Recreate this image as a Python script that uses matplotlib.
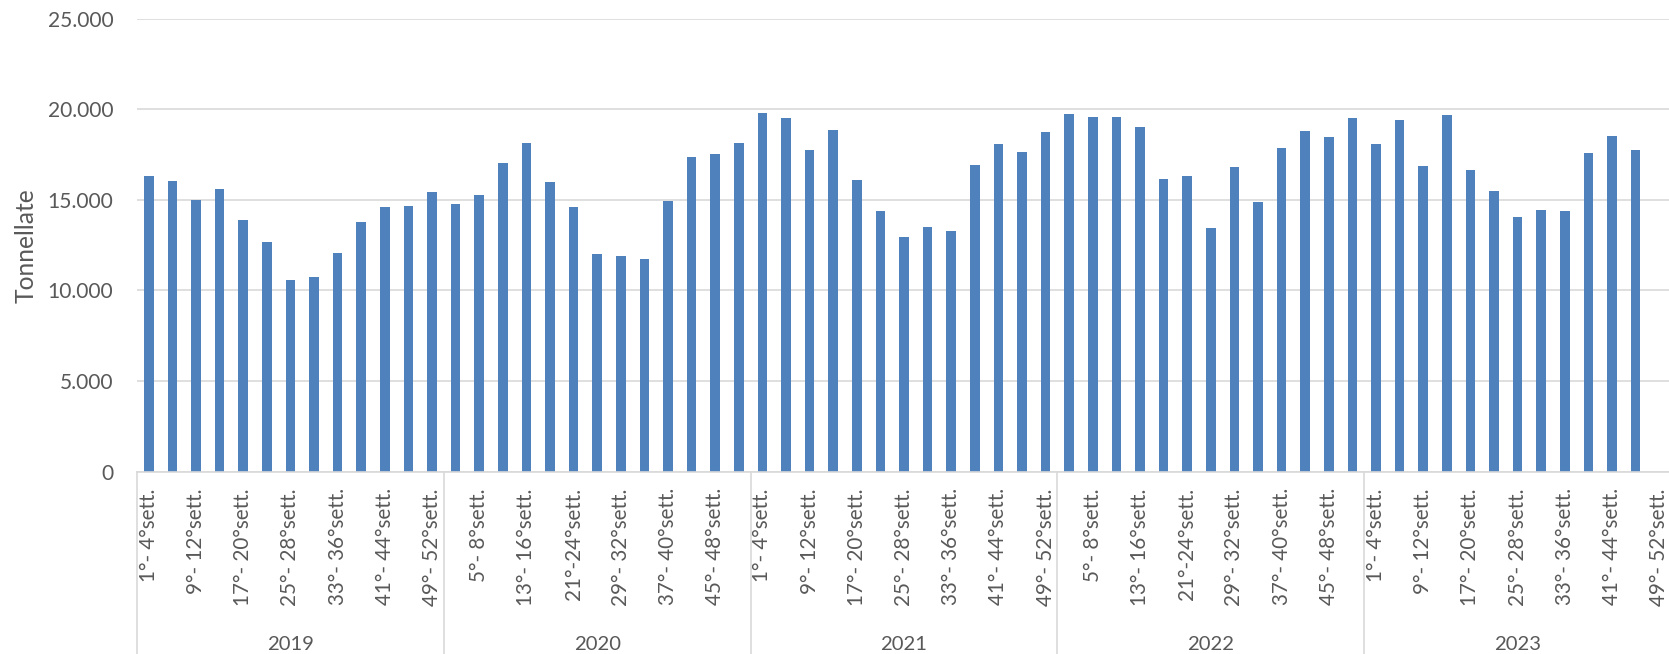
import numpy as np
import matplotlib
matplotlib.use("Agg")
import matplotlib.pyplot as plt
from matplotlib.ticker import FuncFormatter, FixedLocator
from matplotlib.transforms import blended_transform_factory
from matplotlib.lines import Line2D

# ---------------- data ----------------
years = ["2019", "2020", "2021", "2022", "2023"]
periods = ["1°- 4°sett.", "5°- 8°sett.", "9°- 12°sett.", "13°- 16°sett.",
           "17°- 20°sett.", "21°-24°sett.", "25°- 28°sett.", "29°- 32°sett.",
           "33°- 36°sett.", "37°- 40°sett.", "41°- 44°sett.", "45°- 48°sett.",
           "49°- 52°sett."]
v2019 = [16330, 16050, 14970, 15600, 13870, 12650, 10570, 10750, 12080, 13790, 14600, 14640, 15450]
v2020 = [14790, 15250, 17010, 18120, 15980, 14590, 12020, 11910, 11750, 14930, 17350, 17550, 18150]
v2021 = [19780, 19520, 17750, 18850, 16100, 14370, 12950, 13480, 13260, 16940, 18090, 17660, 18750]
v2022 = [19740, 19560, 19590, 19020, 16130, 16330, 13440, 16830, 14880, 17850, 18820, 18470, 19520]
v2023 = [18090, 19430, 16870, 19690, 16670, 15490, 14050, 14440, 14370, 17570, 18540, 17740, np.nan]
series = [v2019, v2020, v2021, v2022, v2023]

values = np.concatenate([np.array(s, dtype=float) for s in series])
n = len(values)
labels = periods * len(years)

# ---------------- style ----------------
BAR = "#4F81BD"
GRID = "#D9D9D9"
TXT = "#595959"
FONT = "Lato"
plt.rcParams["font.family"] = [FONT, "DejaVu Sans"]

W, H = 1669, 654
fig = plt.figure(figsize=(W / 100, H / 100), dpi=100)
renderer = fig.canvas.get_renderer()


def fit_size(s, target_px, base=16.0):
    t = fig.text(0, 0, s, fontsize=base)
    w = t.get_window_extent(renderer).width
    t.remove()
    return base * target_px / w


fs_y = fit_size("25.000", 66)
fs_x = fit_size("17°- 20°sett.", 118)
fs_year = fit_size("2019", 47)
fs_lab = fit_size("Tonnellate", 115)

ax_left, ax_right = 137 / W, 1671 / W
ax_bottom = (H - 471.5) / H
ax_top = (H - 18.7) / H
ax = fig.add_axes([ax_left, ax_bottom, ax_right - ax_left, ax_top - ax_bottom])

x = np.arange(n) + 0.5
ax.bar(x, values, width=0.40, color=BAR, zorder=3)

ax.set_xlim(0, n)
ax.set_ylim(0, 25000)
ax.yaxis.set_major_locator(FixedLocator([0, 5000, 10000, 15000, 20000, 25000]))
ax.yaxis.set_major_formatter(FuncFormatter(lambda v, p: f"{int(v):,}".replace(",", ".")))
ax.grid(axis="y", color=GRID, linewidth=1.2, zorder=0)
ax.set_axisbelow(True)

for s in ["top", "right", "left"]:
    ax.spines[s].set_visible(False)
ax.spines["bottom"].set_color(GRID)
ax.spines["bottom"].set_linewidth(1.2)
ax.spines["bottom"].set_zorder(4)

ax.tick_params(axis="y", length=0, pad=17, labelsize=fs_y, labelcolor=TXT)

# category labels, every other one
tick_pos = x[::2]
tick_lab = [labels[i] for i in range(0, n, 2)]
ax.set_xticks(tick_pos)
ax.set_xticklabels(tick_lab, rotation=90, va="top", ha="center")
ax.tick_params(axis="x", length=0, pad=12, labelsize=fs_x, labelcolor=TXT)

# year group separators and labels
trans = blended_transform_factory(ax.transData, fig.transFigure)
ny = len(periods)
for k in range(len(years) + 1):
    xx = k * ny
    ax.add_line(Line2D([xx, xx], [0, ax_bottom], transform=trans, color=GRID,
                       linewidth=1.2, clip_on=False))
for k, yr in enumerate(years):
    ax.text(k * ny + ny / 2, (H - 650) / H, yr, transform=trans, ha="center",
            va="baseline", fontsize=fs_year, color=TXT)

fig.text(26 / W, 1 - 246 / H, "Tonnellate", rotation=90, ha="center", va="center",
         fontsize=fs_lab, color=TXT)

fig.savefig("out.png", dpi=100, facecolor="white")
